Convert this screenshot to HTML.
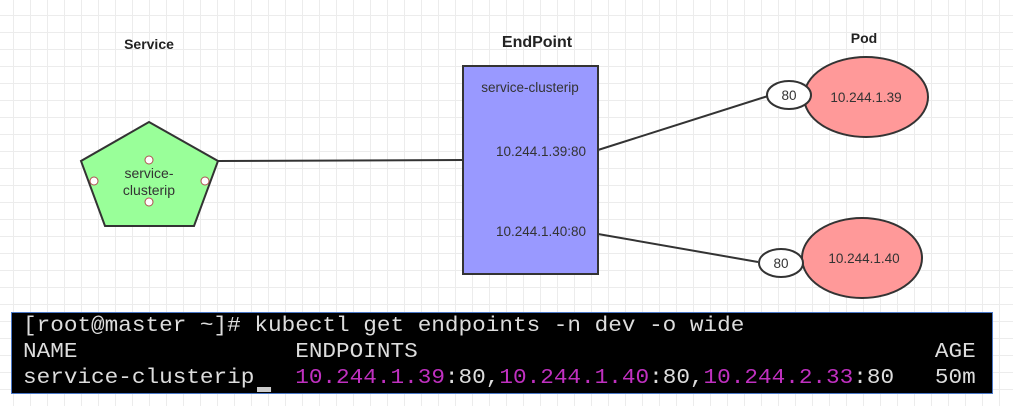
<!DOCTYPE html>
<html><head><style>
body{margin:0;width:1013px;height:406px;overflow:hidden;background:#fff;font-family:"Liberation Sans",sans-serif;}
.grid{position:absolute;left:0;top:0;width:1013px;height:406px;
background-image:linear-gradient(#ececec 1px,transparent 1px),linear-gradient(90deg,#ececec 1px,transparent 1px);
background-size:17px 17px;background-position:-4px -2px;}
svg{position:absolute;left:0;top:0}
.term{position:absolute;left:11px;top:312px;width:980px;height:80px;background:#000;border:1px solid #4a78c8;
font-family:"Liberation Mono",monospace;font-size:21px;color:#ddd;line-height:26px;}
.term div{position:absolute;white-space:pre;transform:scaleX(1.08);transform-origin:0 0;}
.m{color:#c030c0}
</style></head><body>
<div class="grid"></div>
<svg width="1013" height="406" font-family="Liberation Sans, sans-serif">
<g stroke="#333" stroke-width="2" fill="none">
<line x1="218" y1="161" x2="463" y2="160"/>
<line x1="598" y1="150" x2="768" y2="96"/>
<line x1="598" y1="234" x2="758" y2="262"/>
</g>
<polygon points="149,122 218,161 194,226 105,226 81,161" fill="#99ff99" stroke="#333" stroke-width="2"/>
<g fill="#fff" stroke="#b05050" stroke-width="1"><circle cx="149" cy="160" r="4"/><circle cx="149" cy="202" r="4"/><circle cx="94" cy="181" r="4"/><circle cx="205" cy="181" r="4"/></g>
<text x="149" y="178" font-size="14" fill="#333" text-anchor="middle">service-</text>
<text x="149" y="195" font-size="14" fill="#333" text-anchor="middle">clusterip</text>
<rect x="463" y="66" width="135" height="208" fill="#9999ff" stroke="#333" stroke-width="2"/>
<text x="530" y="92" font-size="13.5" fill="#333" text-anchor="middle">service-clusterip</text>
<text x="541" y="156" font-size="13.5" fill="#333" text-anchor="middle">10.244.1.39:80</text>
<text x="541" y="236" font-size="13.5" fill="#333" text-anchor="middle">10.244.1.40:80</text>
<ellipse cx="866" cy="97" rx="62" ry="40" fill="#ff9999" stroke="#333" stroke-width="2"/>
<ellipse cx="789" cy="95" rx="22" ry="14" fill="#fff" stroke="#333" stroke-width="2"/>
<text x="866" y="102" font-size="13.5" fill="#333" text-anchor="middle">10.244.1.39</text>
<text x="789" y="100" font-size="13.5" fill="#333" text-anchor="middle">80</text>
<ellipse cx="862" cy="258" rx="60" ry="40" fill="#ff9999" stroke="#333" stroke-width="2"/>
<ellipse cx="781" cy="263" rx="22" ry="14" fill="#fff" stroke="#333" stroke-width="2"/>
<text x="864" y="263" font-size="13.5" fill="#333" text-anchor="middle">10.244.1.40</text>
<text x="781" y="268" font-size="13.5" fill="#333" text-anchor="middle">80</text>
<text x="149" y="49" font-size="14" font-weight="bold" fill="#222" text-anchor="middle">Service</text>
<text x="537" y="47" font-size="16" font-weight="bold" fill="#222" text-anchor="middle">EndPoint</text>
<text x="864" y="43" font-size="14" font-weight="bold" fill="#222" text-anchor="middle">Pod</text>
</svg>
<div class="term">
<div style="left:11px;top:1px">[root@master ~]# kubectl get endpoints -n dev -o wide</div>
<div style="left:11px;top:27px">NAME                ENDPOINTS                                      AGE</div>
<div style="left:11px;top:53px">service-clusterip   <span class="m">10.244.1.39</span>:80,<span class="m">10.244.1.40</span>:80,<span class="m">10.244.2.33</span>:80   50m</div>
<div style="left:245px;top:74px;width:13px;height:5px;background:#ccc"></div>
</div>
</body></html>
